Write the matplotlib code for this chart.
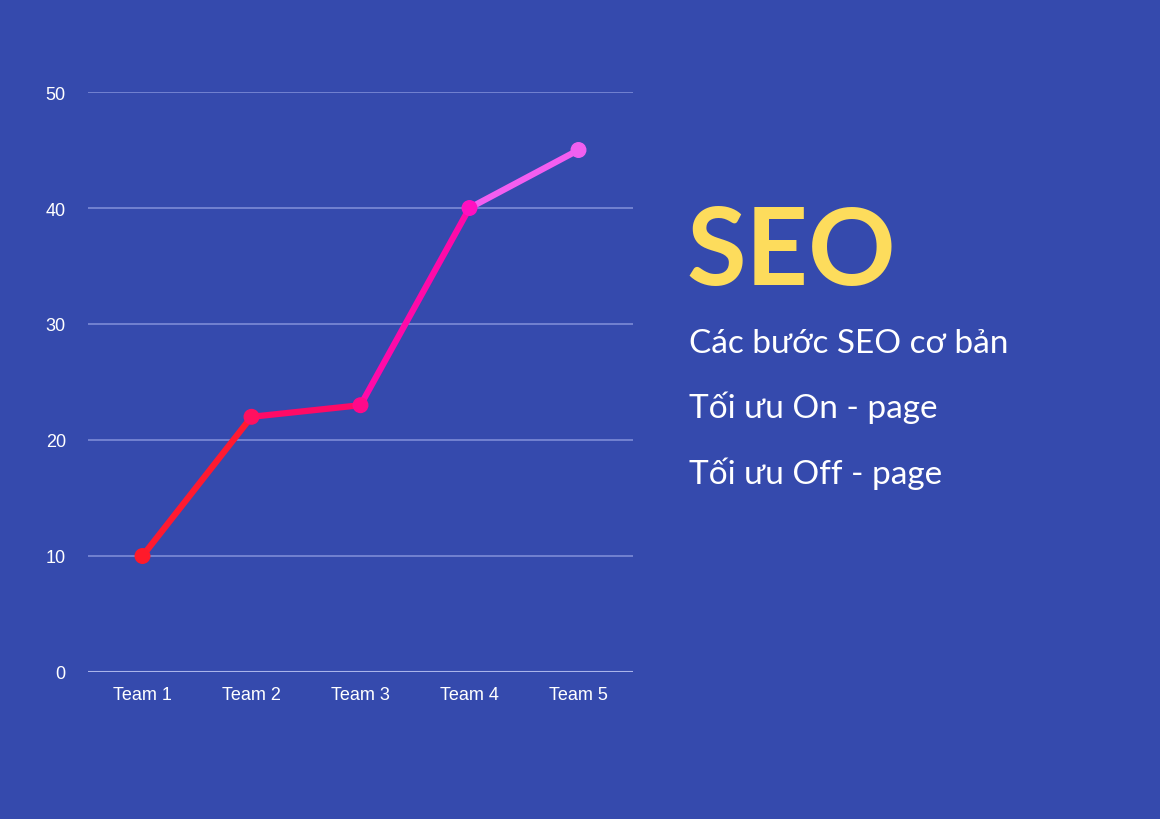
import matplotlib
matplotlib.use("Agg")
import matplotlib.pyplot as plt

categories = ["Team 1", "Team 2", "Team 3", "Team 4", "Team 5"]
values = [10, 22, 23, 40, 45]
point_colors = ["#ff1a2a", "#ff1060", "#ff0a8a", "#ff10c0", "#f060f0"]
seg_colors = ["#ff1a30", "#ff0a66", "#ff0aa8", "#f35ef0"]
yticks = [0, 10, 20, 30, 40, 50]
title = "SEO"
lines = ["Các bước SEO cơ bản", "Tối ưu On - page", "Tối ưu Off - page"]

bg = "#354aad"
fig = plt.figure(figsize=(11.6, 8.2), dpi=100, facecolor=bg)
ax = fig.add_axes([88/1160, 1-673/820, (633-88)/1160, (673-93)/820], facecolor=bg)
x = list(range(len(categories)))
for i in range(len(x)-1):
    ax.plot(x[i:i+2], values[i:i+2], color=seg_colors[i], lw=4.5, solid_capstyle="round", zorder=3)
ax.scatter(x, values, c=point_colors, s=110, zorder=4)
ax.set_xlim(-0.5, 4.5)
ax.set_ylim(0, 50)
ax.set_yticks(yticks)
ax.set_xticks(x, categories)
for s in ax.spines.values():
    s.set_visible(False)
ax.grid(axis="y", color="#7d8bd6", lw=1.2, zorder=1)
ax.axhline(0, color="#aab4ea", lw=1.5, zorder=2)
ax.tick_params(length=0, colors="white", labelsize=13, pad=12)
for lab in ax.get_xticklabels() + ax.get_yticklabels():
    lab.set_fontfamily("Liberation Sans")
ax.tick_params(axis="y", pad=16)
ax.tick_params(axis="x", pad=10)

fig.text(686/1160, 1-285/820, title, fontsize=78, fontweight="bold", color="#fddc5c", family="Lato")
for i, t in enumerate(lines):
    fig.text(689/1160, 1-(353+65.5*i)/820, t, fontsize=24, color="white", family="Lato")
fig.savefig("out.png", dpi=100, facecolor=bg)
